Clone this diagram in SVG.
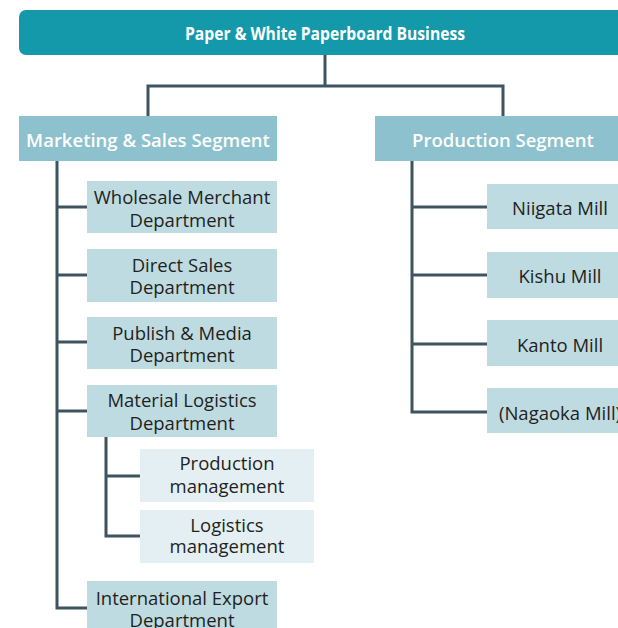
<svg xmlns="http://www.w3.org/2000/svg" width="618" height="628" viewBox="0 0 618 628">
<style>
.t{font-family:"Open Sans","Noto Sans","Liberation Sans",sans-serif;text-anchor:middle}
.w{fill:#ffffff;font-weight:600;font-size:18.5px}
.b{font-weight:700;font-size:18px}
.d{fill:#231f20;font-size:18.5px}
.seg{fill:#8cc1cd}
.dep{fill:#bedbe1}
.sub{fill:#e3eff3}
.ln{stroke:#3e5561;stroke-width:3;fill:none}
</style>
<rect width="618" height="628" fill="#ffffff"/>
<g id="connectors">
<path class="ln" d="M325 55V86M148 117V86H503V117"/>
<path class="ln" d="M57 161V608H88M57 207H88M57 275H88M57 342H88M57 411H88"/>
<path class="ln" d="M106 437V536H141M106 476H141"/>
<path class="ln" d="M412 161V412H488M412 207H488M412 275H488M412 344H488"/>
</g>
<g id="root"><rect x="19" y="10" width="612" height="45" rx="7" fill="#1499ab"/><text class="t w b" x="325" y="40" textLength="280" lengthAdjust="spacingAndGlyphs">Paper &amp; White Paperboard Business</text></g>
<g id="marketing"><rect class="seg" x="19" y="116" width="258" height="45"/><text class="t w" x="148" y="147">Marketing &amp; Sales Segment</text></g>
<g id="production"><rect class="seg" x="375" y="116" width="256" height="45"/><text class="t w" x="503" y="147">Production Segment</text></g>
<g id="wholesale"><rect class="dep" x="87" y="181" width="190" height="52"/><text class="t d" x="182" y="204">Wholesale Merchant</text><text class="t d" x="182" y="227">Department</text></g>
<g id="direct"><rect class="dep" x="87" y="249" width="190" height="53"/><text class="t d" x="182" y="272">Direct Sales</text><text class="t d" x="182" y="294">Department</text></g>
<g id="publish"><rect class="dep" x="87" y="317" width="190" height="52"/><text class="t d" x="182" y="340">Publish &amp; Media</text><text class="t d" x="182" y="362">Department</text></g>
<g id="material"><rect class="dep" x="87" y="385" width="190" height="52"/><text class="t d" x="182" y="407">Material Logistics</text><text class="t d" x="182" y="430">Department</text></g>
<g id="prodmgmt"><rect class="sub" x="140" y="449" width="174" height="53"/><text class="t d" x="227" y="470">Production</text><text class="t d" x="227" y="493">management</text></g>
<g id="logmgmt"><rect class="sub" x="140" y="510" width="174" height="53"/><text class="t d" x="227" y="532">Logistics</text><text class="t d" x="227" y="553">management</text></g>
<g id="intl"><rect class="dep" x="87" y="581" width="190" height="52"/><text class="t d" x="182" y="605">International Export</text><text class="t d" x="182" y="627">Department</text></g>
<g id="niigata"><rect class="dep" x="487" y="184" width="145" height="45"/><text class="t d" x="560" y="215">Niigata Mill</text></g>
<g id="kishu"><rect class="dep" x="487" y="252" width="145" height="46"/><text class="t d" x="560" y="283">Kishu Mill</text></g>
<g id="kanto"><rect class="dep" x="487" y="320" width="145" height="46"/><text class="t d" x="560" y="352">Kanto Mill</text></g>
<g id="nagaoka"><rect class="dep" x="487" y="388" width="145" height="45"/><text class="t d" x="560" y="420">(Nagaoka Mill)</text></g>
</svg>
